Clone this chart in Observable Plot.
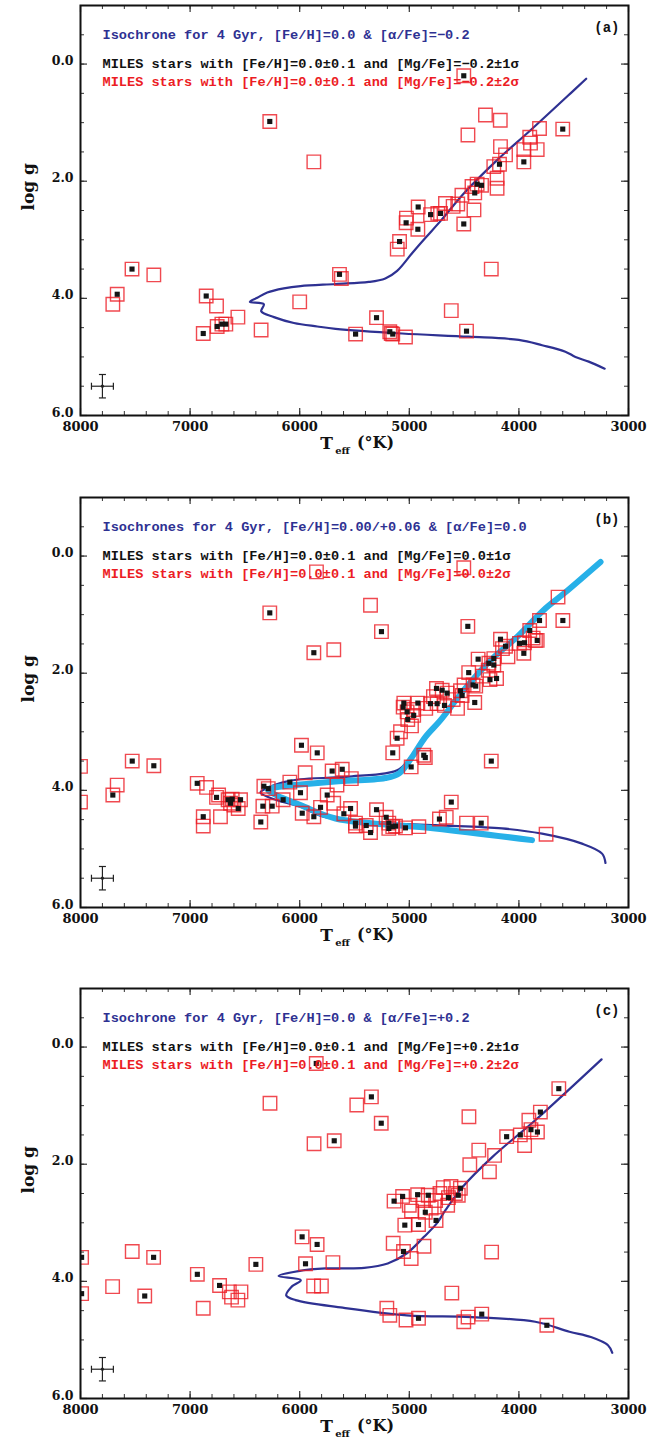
<!DOCTYPE html>
<html>
<head>
<meta charset="utf-8">
<script src="https://cdn.jsdelivr.net/npm/d3@7"></script>
<script src="https://cdn.jsdelivr.net/npm/@observablehq/plot@0.6"></script>
<style>
  body { margin: 0; background: #fff; width: 670px; }
  #charts > svg { display: block; }
</style>
</head>
<body>
<div id="charts"></div>
<script>
// ---- axis ticks ----
const teffTicks = [8000, 7000, 6000, 5000, 4000, 3000];
const loggTicks = [0, 2, 4, 6];

// ---- typical uncertainty (Teff, log g) ----
const errorBar = [{teff: 7800, logg: 5.5, dTeff: 100, dLogg: 0.2}];

// ---- panel (a): [alpha/Fe] = -0.2 ----
const isoA = [[3386,0.25],[3529,0.50],[3894,1.13],[4199,1.64],[4503,2.21],[4706,2.66],[4854,2.97],[4975,3.23],[5111,3.53],[5219,3.66],[5370,3.72],[5673,3.755],[5993,3.79],[6145,3.83],[6296,3.90],[6387,3.99],[6455,4.06],[6327,4.10],[6351,4.22],[6235,4.32],[6053,4.42],[5840,4.48],[5673,4.52],[5066,4.60],[4458,4.655],[4001,4.71],[3788,4.80],[3576,4.91],[3484,5.00],[3363,5.08],[3217,5.20]];
const starsA1 = [[6273,0.98],[4503,0.20],[3600,1.11],[3955,1.67],[4177,1.71],[4341,2.07],[4381,2.05],[4403,2.20],[4503,2.73],[4715,2.55],[4806,2.57],[4919,2.44],[5029,2.71],[4922,2.82],[5089,3.03],[5637,3.59],[7530,3.50],[7665,3.93],[6853,3.96],[6674,4.44],[6710,4.44],[6753,4.48],[6880,4.60],[5299,4.33],[5490,4.61],[5178,4.57],[5151,4.61],[4478,4.56]];
const starsA2 = [[5871,1.67],[4305,0.87],[4170,0.96],[4465,1.21],[3812,1.10],[3901,1.25],[3894,1.35],[3833,1.46],[3955,1.46],[4168,1.41],[4122,1.55],[4229,1.75],[4199,1.95],[4199,2.12],[4428,2.09],[4520,2.24],[4410,2.49],[4558,2.39],[4670,2.38],[4740,2.55],[4600,2.43],[5026,2.63],[5110,3.16],[7331,3.60],[7705,4.10],[6759,4.13],[6564,4.32],[6352,4.54],[6000,4.06],[5620,3.66],[4252,3.50],[4617,4.21],[5035,4.66],[5165,4.60]];

// ---- panel (b): [alpha/Fe] = 0.0, two metallicities ----
const isoB1 = [[3255,0.10],[3590,0.64],[3773,0.92],[4016,1.38],[4259,1.78],[4503,2.29],[4715,2.80],[4854,3.09],[4975,3.40],[5092,3.64],[5219,3.71],[5522,3.76],[5673,3.78],[5993,3.81],[6145,3.86],[6296,3.96],[6358,4.04],[6205,4.17],[5993,4.28],[5800,4.44],[5372,4.54],[4763,4.595],[4154,4.65],[3789,4.74],[3424,4.91],[3241,5.08],[3210,5.24]];
const isoB2 = [[3255,0.10],[3590,0.64],[3773,0.92],[4016,1.38],[4259,1.78],[4503,2.29],[4715,2.80],[4854,3.09],[4975,3.43],[5092,3.71],[5219,3.79],[5673,3.85],[5993,3.90],[6150,3.93],[6290,3.99],[6205,4.09],[5993,4.25],[5673,4.48],[4763,4.65],[3880,4.85]];
const starsB1 = [[6273,0.97],[5871,1.65],[5254,1.29],[4466,1.20],[3812,1.10],[3599,1.10],[3901,1.27],[4168,1.42],[3995,1.49],[3949,1.48],[3833,1.44],[3955,1.66],[4122,1.54],[4372,1.76],[4229,1.75],[4274,1.83],[4229,1.86],[4458,1.99],[4204,2.09],[4264,2.11],[4418,2.20],[4394,2.22],[4752,2.26],[4700,2.29],[4533,2.30],[4518,2.38],[4655,2.34],[4403,2.50],[4922,2.51],[4807,2.52],[4746,2.52],[4679,2.55],[5050,2.51],[5056,2.58],[5020,2.66],[4960,2.72],[5014,2.79],[5111,3.11],[5151,3.36],[4868,3.40],[4854,3.44],[4983,3.60],[4252,3.50],[5612,3.64],[4617,4.20],[4725,4.49],[4344,4.56],[5299,4.33],[5211,4.46],[5536,4.31],[5597,4.40],[5491,4.56],[5491,4.61],[5393,4.60],[5354,4.72],[5187,4.56],[5151,4.62],[5126,4.61],[5187,4.65],[5035,4.64],[7705,4.08],[7528,3.50],[7331,3.58],[6935,3.88],[6759,4.12],[6653,4.16],[6631,4.22],[6616,4.15],[6540,4.16],[6561,4.31],[6880,4.45],[6327,3.93],[6287,3.97],[6336,4.27],[6251,4.27],[6355,4.54],[6151,4.16],[6090,3.86],[5984,3.23],[5840,3.36],[5993,4.04],[5977,4.39],[5810,4.29],[5749,4.08],[5871,4.45],[5704,3.67]];
const starsB2 = [[5847,0.27],[4503,0.20],[5354,0.84],[5689,1.60],[3643,0.70],[3849,1.44],[8000,3.59],[8000,4.20],[7665,3.91],[6850,3.95],[6880,4.61],[6723,4.45],[6740,4.08],[6600,4.25],[5529,3.80],[5950,3.70],[5660,3.91],[5690,4.22],[4663,4.46],[4478,4.56],[3752,4.75],[4913,4.62],[4960,2.62],[4850,2.60],[4600,2.45],[4500,2.20],[4330,2.05],[4150,1.58],[4100,1.72],[3870,1.40],[4980,2.90],[5080,3.00],[4780,2.40],[4560,2.60],[4280,1.95]];

// ---- panel (c): [alpha/Fe] = +0.2 ----
const isoC = [[3246,0.21],[3851,1.25],[4241,1.875],[4514,2.39],[4670,2.785],[4749,3.01],[4866,3.24],[5022,3.52],[5197,3.695],[5412,3.77],[5763,3.78],[5998,3.82],[6193,3.91],[5990,3.98],[6076,4.095],[6123,4.24],[6037,4.32],[5607,4.45],[5022,4.58],[4436,4.61],[3851,4.69],[3539,4.86],[3344,4.95],[3187,5.09],[3148,5.22]];
const starsC1 = [[5849,0.28],[5346,0.85],[5256,1.30],[5685,1.60],[3636,0.71],[3804,1.11],[3890,1.41],[3831,1.45],[3987,1.50],[4112,1.53],[4534,2.41],[4643,2.57],[4827,2.53],[4924,2.52],[5139,2.63],[5061,2.55],[4553,2.53],[4854,2.82],[4756,2.96],[5041,3.04],[4916,3.03],[5053,3.49],[4916,4.63],[4339,4.56],[3745,4.75],[7990,3.59],[7990,4.21],[7333,3.59],[7414,4.25],[6934,3.88],[6731,4.07],[6400,3.71],[5978,3.24],[5841,3.37],[5947,3.70]];
const starsC2 = [[6271,0.96],[5479,0.99],[5869,1.65],[4456,1.19],[3909,1.25],[3948,1.68],[4366,1.76],[4222,1.85],[4448,2.01],[4269,2.13],[4690,2.40],[4620,2.38],[4720,2.50],[4580,2.50],[4760,2.62],[4870,2.62],[5000,2.70],[4650,2.70],[4980,2.80],[4800,2.75],[5147,3.35],[4866,3.40],[4983,3.61],[4249,3.50],[4612,4.20],[5030,4.66],[5178,4.58],[5205,4.46],[4503,4.69],[4464,4.61],[7528,3.49],[7707,4.09],[6880,4.46],[6642,4.18],[6622,4.27],[6536,4.18],[6564,4.32],[5697,3.68],[5873,4.08],[5802,4.08]];

// ---- labels ----
const panelTags = ["(a)", "(b)", "(c)"];
const isoTitles = [
  "Isochrone for 4 Gyr, [Fe/H]=0.0 & [\u03b1/Fe]=\u22120.2",
  "Isochrones for 4 Gyr, [Fe/H]=0.00/+0.06 & [\u03b1/Fe]=0.0",
  "Isochrone for 4 Gyr, [Fe/H]=0.0 & [\u03b1/Fe]=+0.2"
];
const mgFe = ["\u22120.2", "0.0", "+0.2"];

const BLUE = "#2e3192", CYAN = "#27b0e8", RED = "#ec1c24";
const MONO = {fontFamily: "'Liberation Mono', 'DejaVu Sans Mono', monospace", fontWeight: "bold", fontSize: 13.6};
const SERIF = {fontFamily: "'DejaVu Serif', serif", fontWeight: "bold"};

// short horizontal / vertical strokes used as error-bar caps
const capH = {draw(ctx, size) { const r = Math.sqrt(size / Math.PI); ctx.moveTo(-r, 0); ctx.lineTo(r, 0); }};
const capV = {draw(ctx, size) { const r = Math.sqrt(size / Math.PI); ctx.moveTo(0, -r); ctx.lineTo(0, r); }};

const FRAME_W = 548, FRAME_H = 410;
const teffMinor = d3.range(3000, 8001, 200);
const loggMinor = d3.range(-1, 6.001, 0.5);

function panel(i, isoLines, ones, twos, height) {
  const px = d => d[0], py = d => d[1];
  const marks = [
    ...isoLines.map(l => Plot.line(l.data, {x: px, y: py, stroke: l.color, strokeWidth: l.width, curve: "catmull-rom", strokeLinejoin: "round", strokeLinecap: "round", clip: true})),
    Plot.dot(twos.concat(ones), {x: px, y: py, symbol: "square", r: 7.6, fill: "none", stroke: RED, strokeWidth: 1.4, strokeOpacity: 0.8, clip: true}),
    Plot.dot(ones, {x: px, y: py, symbol: "square", r: 2.9, fill: "#151515", clip: true}),
    // error bar
    Plot.link(errorBar, {x1: d => d.teff - d.dTeff, x2: d => d.teff + d.dTeff, y1: "logg", y2: "logg", stroke: "#222", strokeWidth: 1.2}),
    Plot.link(errorBar, {x1: "teff", x2: "teff", y1: d => d.logg - d.dLogg, y2: d => d.logg + d.dLogg, stroke: "#222", strokeWidth: 1.2}),
    Plot.dot(errorBar.flatMap(d => [[d.teff - d.dTeff, d.logg], [d.teff + d.dTeff, d.logg]]), {x: px, y: py, symbol: capV, r: 3.5, stroke: "#222", strokeWidth: 1.2}),
    Plot.dot(errorBar.flatMap(d => [[d.teff, d.logg - d.dLogg], [d.teff, d.logg + d.dLogg]]), {x: px, y: py, symbol: capH, r: 3.5, stroke: "#222", strokeWidth: 1.2}),
    Plot.dot(errorBar, {x: "teff", y: "logg", r: 1.6, fill: "#222"}),
    // inward ticks on all four sides
    Plot.ruleX(teffMinor, {x: d => d, insetTop: FRAME_H - 4, stroke: "#333"}),
    Plot.ruleX(teffMinor, {x: d => d, insetBottom: FRAME_H - 4, stroke: "#333"}),
    Plot.ruleX(teffTicks, {x: d => d, insetTop: FRAME_H - 7, stroke: "#333", strokeWidth: 1.2}),
    Plot.ruleX(teffTicks, {x: d => d, insetBottom: FRAME_H - 7, stroke: "#333", strokeWidth: 1.2}),
    Plot.ruleY(loggMinor, {y: d => d, insetRight: FRAME_W - 4, stroke: "#333"}),
    Plot.ruleY(loggMinor, {y: d => d, insetLeft: FRAME_W - 4, stroke: "#333"}),
    Plot.ruleY(loggTicks, {y: d => d, insetRight: FRAME_W - 7, stroke: "#333", strokeWidth: 1.2}),
    Plot.ruleY(loggTicks, {y: d => d, insetLeft: FRAME_W - 7, stroke: "#333", strokeWidth: 1.2}),
    Plot.frame({stroke: "#111", strokeWidth: 2}),
    // tick labels
    Plot.text(teffTicks, {x: d => d, frameAnchor: "bottom", dy: 15, text: d => String(d), fontSize: 13, fill: "#111", ...SERIF}),
    Plot.text(loggTicks, {y: d => d, frameAnchor: "left", dx: -7, dy: -3, textAnchor: "end", text: d => d.toFixed(1), fontSize: 12.5, fill: "#111", ...SERIF}),
    // axis titles
    Plot.text(["log g"], {frameAnchor: "left", dx: -52, rotate: -90, text: d => d, fontSize: 17, fill: "#111", ...SERIF}),
    Plot.text(["T"], {frameAnchor: "bottom", dx: -28, dy: 33, text: d => d, fontSize: 17, fill: "#111", ...SERIF}),
    Plot.text(["eff"], {frameAnchor: "bottom", dx: -12, dy: 38, text: d => d, fontSize: 10, fill: "#111", ...SERIF}),
    Plot.text(["(\u00b0K)"], {frameAnchor: "bottom", dx: 21, dy: 32, text: d => d, fontSize: 16, fill: "#111", ...SERIF}),
    // legend texts
    Plot.text([isoTitles[i]], {frameAnchor: "top-left", dx: 22, dy: 24, textAnchor: "start", text: d => d, fill: BLUE, ...MONO}),
    Plot.text([`MILES stars with [Fe/H]=0.0\u00b10.1 and [Mg/Fe]=${mgFe[i]}\u00b11\u03c3`], {frameAnchor: "top-left", dx: 22, dy: 53, textAnchor: "start", text: d => d, fill: "#111", ...MONO}),
    Plot.text([`MILES stars with [Fe/H]=0.0\u00b10.1 and [Mg/Fe]=${mgFe[i]}\u00b12\u03c3`], {frameAnchor: "top-left", dx: 22, dy: 71, textAnchor: "start", text: d => d, fill: RED, ...MONO}),
    Plot.text([panelTags[i]], {frameAnchor: "top-right", dx: -9, dy: 17, textAnchor: "end", text: d => d, fill: "#111", ...MONO, fontSize: 14})
  ];
  return Plot.plot({
    width: 670,
    height,
    marginLeft: 80,
    marginRight: 42,
    marginTop: 5,
    marginBottom: height - 5 - FRAME_H,
    style: {background: "#fff", overflow: "visible"},
    x: {domain: [8000, 3000], axis: null},
    y: {domain: [6, -1], axis: null},
    marks
  });
}

const root = document.getElementById("charts");
root.append(
  panel(0, [{data: isoA, color: BLUE, width: 2.2}], starsA1, starsA2, 492),
  panel(1, [{data: isoB1, color: BLUE, width: 2.2}, {data: isoB2, color: CYAN, width: 6}], starsB1, starsB2, 491),
  panel(2, [{data: isoC, color: BLUE, width: 2.2}], starsC1, starsC2, 458)
);
</script>
</body>
</html>
